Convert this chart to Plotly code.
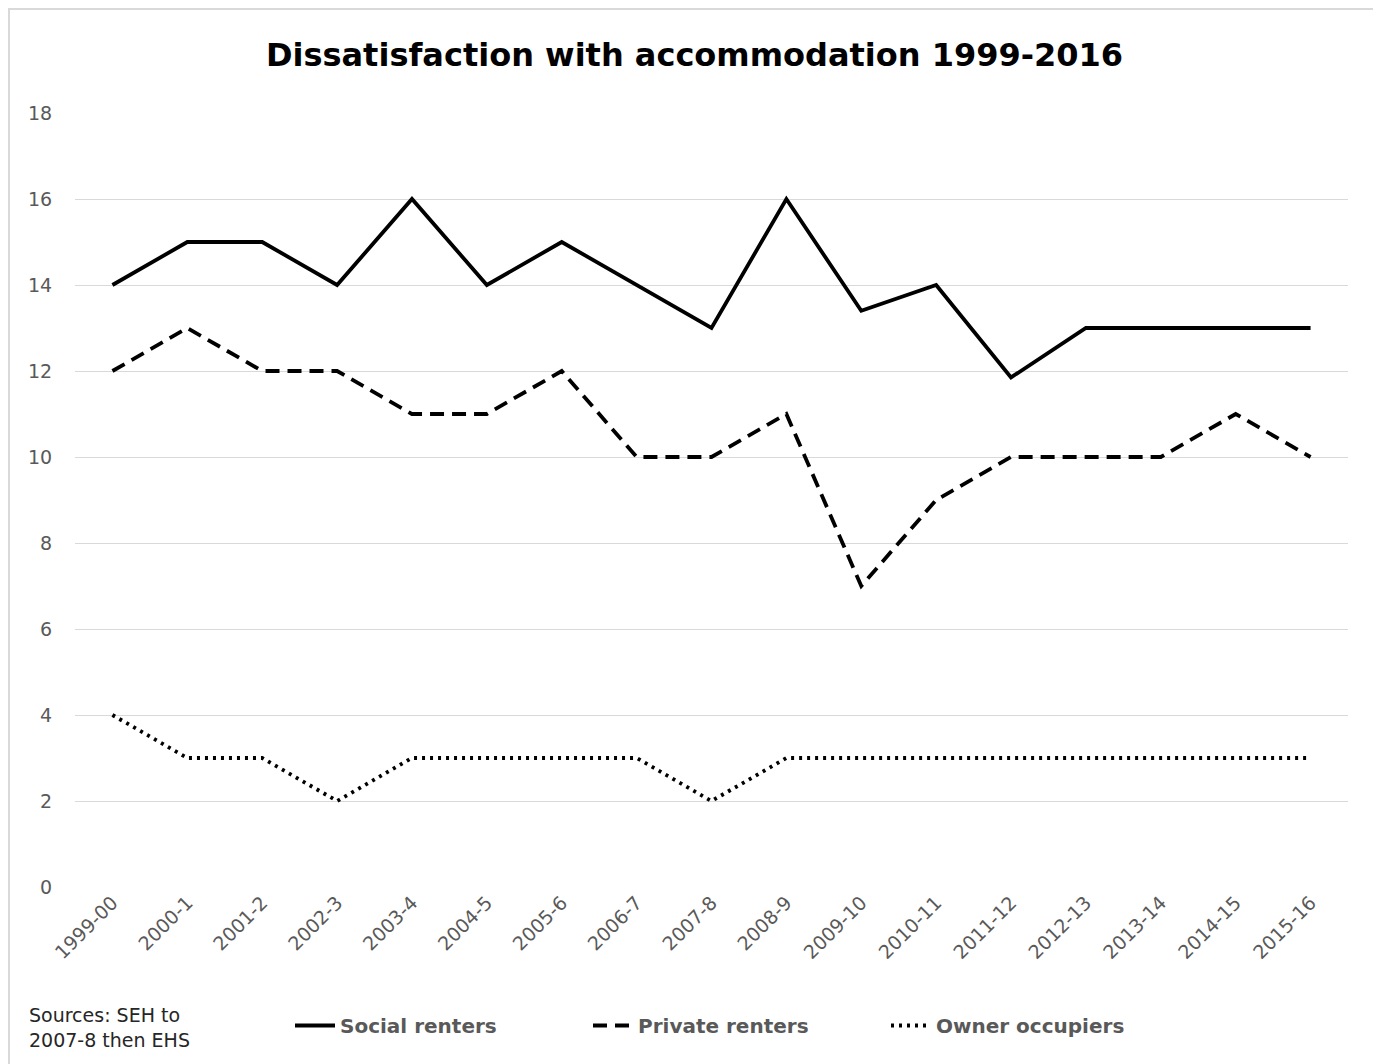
import plotly.graph_objects as go

years = ["1999-00", "2000-1", "2001-2", "2002-3", "2003-4", "2004-5", "2005-6", "2006-7",
         "2007-8", "2008-9", "2009-10", "2010-11", "2011-12", "2012-13", "2013-14", "2014-15", "2015-16"]
social = [14, 15, 15, 14, 16, 14, 15, 14, 13, 16, 13.4, 14, 11.85, 13, 13, 13, 13]
private = [12, 13, 12, 12, 11, 11, 12, 10, 10, 11, 7, 9, 10, 10, 10, 11, 10]
owner = [4, 3, 3, 2, 3, 3, 3, 3, 2, 3, 3, 3, 3, 3, 3, 3, 3]
y_ticks = [0, 2, 4, 6, 8, 10, 12, 14, 16, 18]

# page body has an 8px margin, so the figure is sized/offset to compensate
OFF = 8
W, H = 1381 - OFF, 1064 - OFF
L, R, T, B = 75 - OFF, 33, 113 - OFF, 177
FONT = "DejaVu Sans, sans-serif"

fig = go.Figure()
fig.add_trace(go.Scatter(x=years, y=social, mode="lines", name="<b>Social renters</b>",
                         line=dict(color="black", width=3.8, dash="solid")))
fig.add_trace(go.Scatter(x=years, y=private, mode="lines", name="<b>Private renters</b>",
                         line=dict(color="black", width=3.8, dash="14px,8px")))
fig.add_trace(go.Scatter(x=years, y=owner, mode="lines", name="<b>Owner occupiers</b>",
                         line=dict(color="black", width=3.8, dash="3px,5px")))

pw = W - L - R
ph = H - T - B
bottom = T + ph  # div y of plot bottom


def py(ydiv):
    return -(ydiv - bottom) / ph


def px(xdiv):
    return (xdiv - L) / pw


fig.update_layout(
    width=W, height=H,
    margin=dict(l=L, r=R, t=T, b=B, autoexpand=False),
    paper_bgcolor="white", plot_bgcolor="white",
    font=dict(family=FONT, color="#595959", size=19),
    title=dict(text="<b>Dissatisfaction with accommodation 1999-2016</b>",
               x=0.5, xanchor="center", y=1 - (55 - OFF) / H, yanchor="middle",
               font=dict(size=32, color="black", family=FONT)),
    showlegend=True,
    legend=dict(orientation="h", x=px(290 - OFF), xanchor="left",
                y=py(1006 - OFF), yanchor="top",
                font=dict(size=20, color="#595959", family=FONT), entrywidth=243,
                itemwidth=40, tracegroupgap=0),
    xaxis=dict(type="category", range=[-0.5, 16.5], tickangle=-45, showgrid=False,
               showline=False, ticks="", automargin=False,
               tickfont=dict(size=19, color="#595959")),
    yaxis=dict(range=[0, 18], tickvals=y_ticks, showgrid=True, gridcolor="#d9d9d9",
               gridwidth=1, zeroline=False, showline=False, ticks="outside", ticklen=18,
               tickcolor="white", automargin=False, tickfont=dict(size=19, color="#595959")),
    shapes=[dict(type="rect", xref="paper", yref="paper",
                 x0=px(1), x1=px(1378 - OFF),
                 y0=py(H + 10), y1=py(1),
                 line=dict(color="#d9d9d9", width=2), fillcolor="rgba(0,0,0,0)")],
    annotations=[dict(text="Sources: SEH to<br>2007-8 then EHS", xref="paper", yref="paper",
                      x=px(27 - OFF), xanchor="left", y=py(1027 - OFF),
                      yanchor="middle", align="left", showarrow=False,
                      font=dict(size=19, color="#262626", family=FONT))],
)

fig.write_html("out.html")
